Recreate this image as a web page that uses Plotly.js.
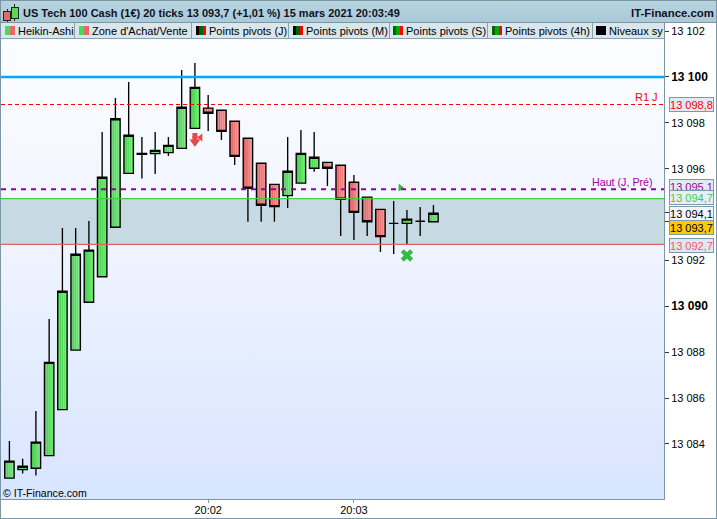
<!DOCTYPE html>
<html><head><meta charset="utf-8">
<script src="https://cdn.plot.ly/plotly-3.0.1.min.js"></script>
<style>
html,body{margin:0;padding:0;background:#fff;overflow:hidden}
#wrap{position:relative;width:717px;height:519px;background:#fff}
.c{position:absolute}
#gd{position:absolute;left:0;top:0;width:717px;height:519px}
</style></head><body>
<div id="wrap"><div id="chrome"></div><div id="gd"></div></div>
<script>
// ---------- data ----------
const candleIndex = [0,1,2,3,4,5,6,7,8,9,10,11,12,13,14,15,16,17,18,19,20,21,22,23,24,25,26,27,28,29,30,31,32];
const openValues  = [13082.51,13082.88,13082.94,13083.49,13085.50,13088.09,13090.18,13091.29,13093.45,13095.80,13096.63,13096.66,13096.70,13096.89,13097.76,13098.64,13098.55,13098.07,13097.33,13096.24,13095.32,13094.83,13095.37,13096.02,13096.28,13096.15,13095.41,13094.76,13094.23,13093.62,13093.62,13093.71,13093.69];
const highValues  = [13084.13,13083.35,13085.44,13089.45,13093.42,13093.42,13093.72,13097.60,13099.08,13099.78,13097.38,13097.60,13097.38,13100.31,13100.61,13099.22,13098.55,13098.07,13097.33,13096.24,13095.32,13097.38,13097.69,13097.60,13096.28,13096.15,13095.73,13094.76,13094.23,13094.59,13094.20,13094.33,13094.42];
const lowValues   = [13082.51,13082.71,13082.62,13083.49,13085.50,13088.09,13090.18,13091.29,13093.45,13095.80,13095.57,13095.77,13096.56,13096.89,13097.76,13097.65,13097.25,13096.16,13093.69,13093.69,13093.69,13094.29,13095.37,13095.87,13095.25,13093.07,13092.89,13093.07,13092.37,13092.28,13092.72,13093.07,13093.69];
const closeValues = [13083.25,13083.03,13084.08,13087.56,13090.66,13092.27,13092.45,13095.63,13098.18,13097.46,13096.67,13096.80,13097.02,13098.68,13099.55,13098.42,13097.63,13096.54,13095.15,13094.41,13094.35,13095.89,13096.67,13096.50,13096.02,13094.67,13094.10,13093.69,13093.04,13093.62,13093.80,13093.71,13094.06];
const axisTickValues = [13102,13100,13098,13096,13094.1,13093.7,13092,13090,13088,13086,13084];
const axisTickLabels = ["13 102",'<span style="font-size:12px"><b>13 100</b></span>',"13 098","13 096","","","13 092",'<span style="font-size:12px"><b>13 090</b></span>',"13 088","13 086","13 084"];
const timeTickIndex = [15,26];
const timeTickLabels = ["20:02","20:03"];
const levelRound = 13100, levelR1 = 13098.8, levelHaut = 13095.1, levelZoneTop = 13094.7, levelZoneBottom = 13092.7;
const priceBoxLabels = ["13 098,8","13 095,1","13 094,7","13 094,1","13 093,7","13 092,7"];
const priceBoxPixelY = [104.5,186,197.5,213.5,227,245];
const priceBoxColors = ["#ff0000","#a000a0","#44cc44","#000000","#000000","#e86060"];
const priceBoxFills  = ["#e2e8f4","#e2e8f4","#e8eef6","#f2f5fc","#ffc80a","#e2e6f2"];
const tabLabels = ["Heikin-Ashi","Zone d'Achat/Vente","Points pivots (J)","Points pivots (M)","Points pivots (S)","Points pivots (4h)","Niveaux sy"];
const tabTextX = [17.5,92,208.5,305.5,405.5,504.5,609];
const tabIconX = [5,79,196,293,393,492,596];
const tabIconColors = [["#44dd55","#e86868"],["#44dd55","#e86868"],["#000","#006600","#ff0000"],["#000","#006600","#ff0000"],["#006600","#00aa00","#ff0000"],["#006600","#00aa00","#ff0000"],["#000"]];
const tabDividers = [74,191,288,388.5,487,591.5];
const greenSlices = ["#4ccb50","#52d457","#58dc5d","#5ee363","#66ea69"];
const redSlices   = ["#dd6262","#e56c6c","#ec7676","#f27f7f","#f88888"];
const markerX=[14,14,14,14.43,29.5,30];
const markerY=[13097.17,13097.32,13097.45,13097.36,13095.18,13092.22];
const markerSymbols=['triangle-down','square','square','triangle-left','triangle-right','x'];
const markerColors=['#e8484c','#e8484c','#e8484c','#e8484c','#33bb44','#33bb44'];
const markerSizes=[9.5,5,5,7,7,11];

// ---------- geometry of the frame ----------
const W=717,H=519,mL=1,mR=53,mT=23,mB=20;
const pw=W-mL-mR, ph=H-mT-mB;
const px=x=>(x-mL)/pw, py=y=>1-(y-mT)/ph;

// ---------- chrome (behind a transparent plot) ----------
const ch=document.getElementById('chrome');
function box(l,t,w,h,bg,extra){const d=document.createElement('div');d.className='c';
 d.style.cssText=`left:${l}px;top:${t}px;width:${w}px;height:${h}px;background:${bg};${extra||''}`;ch.appendChild(d);return d;}
box(0,0,717,519,'#fff');
box(1,38,663,461,'linear-gradient(180deg,#fcfdff 0%,#f1f5ff 40%,#d8e5ff 100%)');
box(0,1,717,22,'linear-gradient(180deg,#b7d3e0 0%,#a9c9d8 100%)');
box(0,0,717,1,'#7d96a4');
box(0,22,717,1,'#7d96a4');
box(1,23,663,15,'#d9e6ec');
box(0,37.5,664,1,'#8aa2ae');
tabDividers.forEach(x=>box(x,23,1,15,'#8aa2ae'));
tabIconX.forEach((x,i)=>{const cols=tabIconColors[i],w=10/cols.length;cols.forEach((c,j)=>box(x+j*w,26,w,9,c));});
box(0,0,1.4,519,'#7d96a4');box(716,0,1,519,'#7d96a4');box(0,518,717,1,'#7d96a4');
box(664,23,1,476,'#7d96a4');box(1,499,664,1,'#7d96a4');
box(3,11,6,8,'#e86868','border:1px solid #222;');
box(6.5,9,1,2,'#222');box(6.5,20,1,2,'#222');
box(11,7,6,10,'#55dd55','border:1px solid #222;');box(14,4,1,3,'#222');box(14,18,1,3,'#222');

// ---------- traces ----------
const traces=[];
const bodyW=0.72, sliceW=bodyW/5;
for(let s=0;s<5;s++){
 traces.push({type:'bar',x:candleIndex,
  base:candleIndex.map(i=>Math.min(openValues[i],closeValues[i])),
  y:candleIndex.map(i=>Math.abs(closeValues[i]-openValues[i])),
  width:sliceW,offset:-bodyW/2+s*sliceW,
  marker:{color:candleIndex.map(i=>closeValues[i]>=openValues[i]?greenSlices[s]:redSlices[s]),line:{width:0}},
  hoverinfo:'skip',showlegend:false});
}
traces.push({type:'candlestick',x:candleIndex,open:openValues,high:highValues,low:lowValues,close:closeValues,
 increasing:{line:{color:'#000',width:1.35},fillcolor:'rgba(0,0,0,0)'},
 decreasing:{line:{color:'#000',width:1.35},fillcolor:'rgba(0,0,0,0)'},
 whiskerwidth:0,showlegend:false});
traces.push({type:'scatter',mode:'markers',x:markerX,y:markerY,
 marker:{symbol:markerSymbols,color:markerColors,size:markerSizes,opacity:1,line:{width:0}},
 hoverinfo:'skip',showlegend:false});

// ---------- shapes ----------
const hline=(y,color,width,dash)=>({type:'line',xref:'paper',x0:0,x1:1,yref:'y',y0:y,y1:y,layer:'above',line:{color,width,dash:dash||'solid'}});
const shapes=[
 {type:'rect',xref:'paper',x0:0,x1:1,yref:'y',y0:levelZoneBottom,y1:levelZoneTop,layer:'below',fillcolor:'#c7dae4',line:{width:0}},
 hline(levelRound,'#00aaff',2.4),
 hline(levelR1,'#ff0000',1.2,'4px,3px'),
 hline(levelHaut,'#990099',2,'5px,5px'),
 hline(levelZoneTop,'#44cc44',1.2),
 hline(levelZoneBottom,'#e86060',1.2)
];

// ---------- annotations ----------
const font='"Liberation Sans",Arial,sans-serif';
const ann=[];
const label=(x,y,text,size,color,anchor,bold)=>ann.push({xref:'paper',yref:'paper',x:px(x),y:py(y),text:bold?`<b>${text}</b>`:text,showarrow:false,
 xanchor:anchor||'left',yanchor:'middle',font:{family:font,size,color:color||'#000'},borderpad:0,borderwidth:0});
label(23,13,"US Tech 100 Cash (1€) 20 ticks 13 093,7 (+1,01 %) 15 mars 2021 20:03:49",11,'#111122','left',true);
label(714,13,"IT-Finance.com",11.4,'#111122','right',true);
tabLabels.forEach((t,i)=>label(tabTextX[i],31,t,11,'#000'));
label(658,97,"R1 J",11,'#ff0000','right');
label(653,182,"Haut (J, Pré)",10.7,'#a000a0','right');
label(3,493,"© IT-Finance.com",10.6,'#000');
priceBoxLabels.forEach((t,i)=>ann.push({xref:'paper',yref:'paper',x:px(691.8),y:py(priceBoxPixelY[i]),text:t,showarrow:false,
 xanchor:'center',yanchor:'middle',width:43,height:13,bgcolor:priceBoxFills[i],bordercolor:'#7d98a8',borderwidth:1,borderpad:0,
 font:{family:font,size:11,color:priceBoxColors[i]}}));

Plotly.newPlot('gd',traces,{
 width:W,height:H,margin:{l:mL,r:mR,t:mT,b:mB,pad:0},
 paper_bgcolor:'rgba(0,0,0,0)',plot_bgcolor:'rgba(0,0,0,0)',
 showlegend:false,barmode:'overlay',boxgap:0.2,boxgroupgap:0.11,hovermode:false,dragmode:false,
 font:{family:font,size:11,color:'#000'},
 xaxis:{range:[-0.634,49.4],tickmode:'array',tickvals:timeTickIndex,ticktext:timeTickLabels,ticks:'outside',ticklen:3,tickwidth:1,tickcolor:'#7d96a4',ticklabelstandoff:-2,
  showgrid:false,zeroline:false,showline:false,rangeslider:{visible:false},tickfont:{size:11,family:font},tickangle:0,fixedrange:true},
 yaxis:{range:[13081.60,13102.354],side:'right',tickmode:'array',tickvals:axisTickValues,ticktext:axisTickLabels,ticks:'outside',ticklen:4,tickwidth:1,tickcolor:'#333',
  showgrid:false,zeroline:false,showline:false,tickfont:{size:11,family:font},fixedrange:true,automargin:false},
 shapes,annotations:ann
},{displayModeBar:false,staticPlot:true});
</script></body></html>
